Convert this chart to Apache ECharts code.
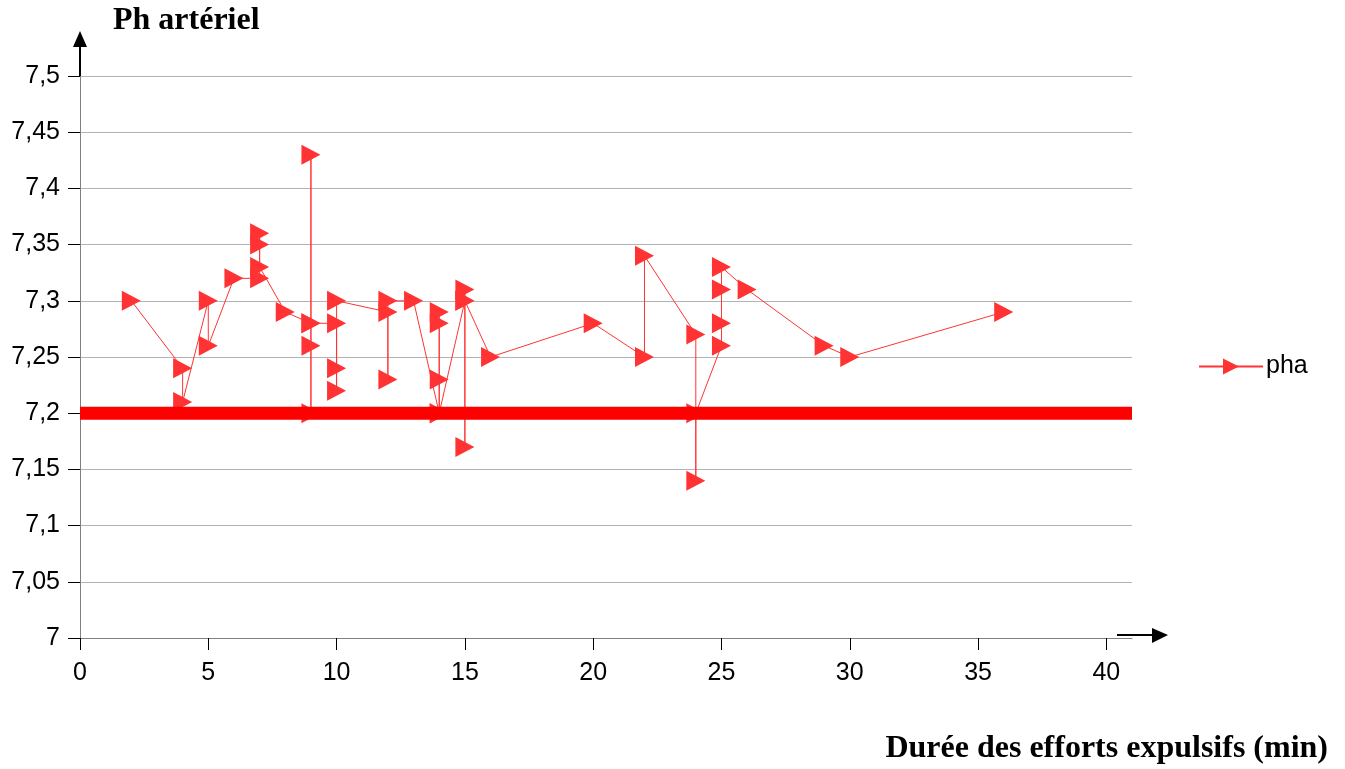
<!DOCTYPE html>
<html>
<head>
<meta charset="utf-8">
<script src="https://cdn.jsdelivr.net/npm/echarts@6/dist/echarts.min.js"></script>
<style>
html,body{margin:0;padding:0;background:#fff;}
#c{width:1345px;height:769px;}
</style>
</head>
<body>
<div id="c"></div>
<script>
// Durée des efforts expulsifs (min)
var durees = [2, 4, 4, 5, 5, 6, 7, 7, 7, 7, 8, 9, 9, 9, 9, 9, 10, 10, 10, 10,
  12, 12, 12, 13, 14, 14, 14, 14, 14, 15, 15, 15, 15, 16, 20, 22, 22, 24, 24, 24,
  25, 25, 25, 25, 26, 29, 30, 36];
// pH artériel (pha)
var pha = [7.30, 7.24, 7.21, 7.30, 7.26, 7.32, 7.32, 7.36, 7.35, 7.33, 7.29, 7.28, 7.43, 7.20, 7.26, 7.28, 7.28, 7.22, 7.24, 7.30,
  7.29, 7.23, 7.30, 7.30, 7.20, 7.23, 7.29, 7.28, 7.20, 7.30, 7.17, 7.31, 7.30, 7.25, 7.28, 7.25, 7.34, 7.27, 7.14, 7.20,
  7.26, 7.28, 7.31, 7.33, 7.31, 7.26, 7.25, 7.29];
// seuil
var seuilX = [0, 41];
var seuilY = [7.2, 7.2];
var xTicks = [0, 5, 10, 15, 20, 25, 30, 35, 40];

var chart = echarts.init(document.getElementById('c'));
var dataPha = durees.map(function (x, i) { return [x, pha[i]]; });
var dataSeuil = seuilX.map(function (x, i) { return [x, seuilY[i]]; });
var tri = 'path://M0,0 L10,5 L0,10 Z';

chart.setOption({
  animation: false,
  backgroundColor: '#fff',
  grid: { left: 80, right: 213, top: 76, bottom: 131, containLabel: false },
  legend: {
    data: ['pha'],
    left: 1198, top: 354, orient: 'vertical', padding: 0,
    itemWidth: 64, itemHeight: 20, itemGap: 5,
    textStyle: { fontFamily: 'Liberation Sans', fontSize: 25, color: '#000', padding: [0, 0, 0, -2] }
  },
  xAxis: {
    type: 'value', min: 0, max: 41, interval: 5,
    axisLine: { show: true, onZero: false, lineStyle: { color: '#808080', width: 1 } },
    axisTick: { show: true, length: 12, customValues: xTicks, lineStyle: { color: '#000', width: 1 } },
    axisLabel: { customValues: xTicks, margin: 23, fontFamily: 'Liberation Sans', fontSize: 25, color: '#000' },
    splitLine: { show: false }
  },
  yAxis: {
    type: 'value', min: 7, max: 7.5, interval: 0.05,
    axisLine: { show: true, lineStyle: { color: '#808080', width: 1 } },
    axisTick: { show: true, length: 12, lineStyle: { color: '#000', width: 1 } },
    axisLabel: {
      margin: 20, fontFamily: 'Liberation Sans', fontSize: 25, color: '#000',
      formatter: function (v) { return String(Number(v.toFixed(2))).replace('.', ','); }
    },
    splitLine: { show: true, lineStyle: { color: '#b3b3b3', width: 1 } }
  },
  series: [
    {
      name: 'pha', type: 'line', data: dataPha,
      symbol: tri, symbolSize: [19, 20],
      itemStyle: { color: '#ff3333' },
      lineStyle: { color: '#ff3333', width: 1 },
      z: 2
    },
    {
      name: 'seuil', type: 'line', data: dataSeuil,
      symbol: 'none', silent: true,
      lineStyle: { color: '#ff0000', width: 13 },
      itemStyle: { color: '#ff0000' },
      z: 3
    }
  ],
  graphic: [
    { type: 'line', shape: { x1: 80, y1: 76, x2: 80, y2: 45 }, style: { stroke: '#000', lineWidth: 2 }, z: 10 },
    { type: 'polygon', shape: { points: [[73, 47], [87, 47], [80, 31]] }, style: { fill: '#000' }, z: 10 },
    { type: 'line', shape: { x1: 1117, y1: 635, x2: 1155, y2: 635 }, style: { stroke: '#000', lineWidth: 2 }, z: 10 },
    { type: 'polygon', shape: { points: [[1152, 628], [1152, 643], [1168, 635]] }, style: { fill: '#000' }, z: 10 },
    { type: 'text', left: 113, top: 5, style: { text: 'Ph artériel', font: 'bold 32px "Liberation Serif"', fill: '#000' } },
    { type: 'text', right: 17, top: 733, style: { text: 'Durée des efforts expulsifs (min)', font: 'bold 32px "Liberation Serif"', fill: '#000' } }
  ]
});
</script>
</body>
</html>
